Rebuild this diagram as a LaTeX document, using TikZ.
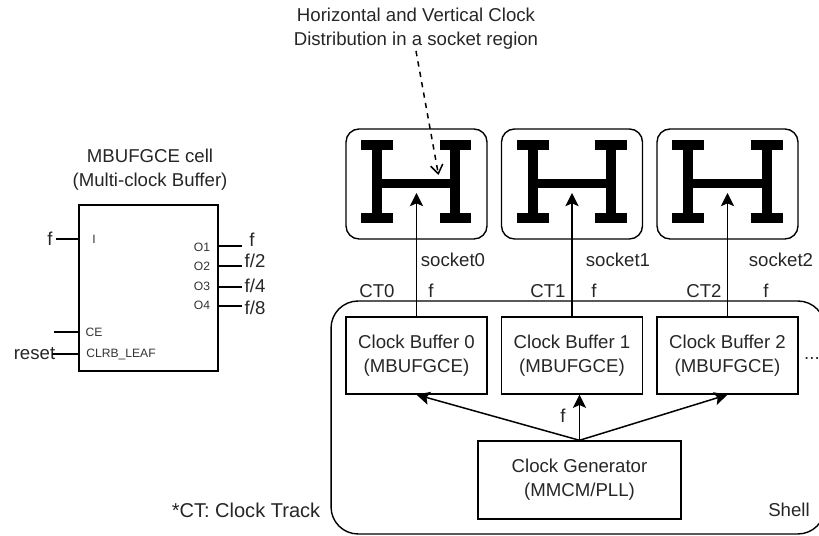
\documentclass[tikz,border=0pt]{standalone}
\usepackage{fontspec}
\setmainfont{Liberation Sans}
\usetikzlibrary{arrows.meta}
\tikzset{
  txt/.style={inner sep=0pt,text=black!85,align=center,font=\fontsize{10.6}{13.6}\selectfont},
  pintxt/.style={inner sep=0pt,text=black!80,font=\fontsize{6.9}{8}\selectfont},
  box/.style={draw,line width=0.8pt,inner sep=0pt},
  socketbox/.style={box,rounded corners=0.26cm,minimum width=2.82cm,minimum height=2.2cm},
  bufbox/.style={box,align=center,text=black!85,font=\fontsize{10.6}{13.6}\selectfont,minimum width=2.82cm,minimum height=1.54cm},
  hbar/.style={line width=5.6pt},
  wire/.style={line width=0.85pt},
  clk/.style={wire,-{Stealth[length=7.5pt,width=7.5pt,inset=1.6pt]}}
}
\begin{document}
\begin{tikzpicture}[x=0.02cm,y=-0.02cm]
      \useasboundingbox (0,0) rectangle (819,536);
      % shell and its buffers
      \node[box,rounded corners=0.54cm,minimum width=9.88cm,minimum height=4.66cm] (shell) at (578,417.5) {};
      \node[bufbox] (buf0) at (416.5,355.5) {Clock Buffer 0\\(MBUFGCE)};
      \node[bufbox] (buf1) at (572,355.5) {Clock Buffer 1\\(MBUFGCE)};
      \node[bufbox] (buf2) at (727.5,355.5) {Clock Buffer 2\\(MBUFGCE)};
      \node[bufbox,minimum width=4.06cm,minimum height=1.56cm] (clkgen) at (579.5,480) {Clock Generator\\(MMCM/PLL)};
      % socket regions
      \node[socketbox] (sock0) at (416.5,184) {};
      \node[socketbox] (sock1) at (572,184) {};
      \node[socketbox] (sock2) at (727.5,184) {};
      \draw[hbar] (361,145)--(393,145) (377,145)--(377,218) (361,218)--(393,218) (440,145)--(471,145) (455,145)--(455,218) (440,218)--(471,218) (377,183.5)--(455,183.5);
      \draw[hbar] (517,145)--(549,145) (533,145)--(533,218) (517,218)--(549,218) (595,145)--(627,145) (611,145)--(611,218) (595,218)--(627,218) (533,183.5)--(611,183.5);
      \draw[hbar] (672,145)--(704,145) (688,145)--(688,218) (672,218)--(704,218) (751,145)--(783,145) (767,145)--(767,218) (751,218)--(783,218) (688,183.5)--(767,183.5);
      \coordinate (tip0) at (416.5,193);
      \coordinate (tip1) at (572,193);
      \coordinate (tip2) at (727.5,193);
      \draw[clk] (buf0.north) -- (tip0);
      \draw[clk] (buf1.north) -- (tip1);
      \draw[clk] (buf2.north) -- (tip2);
      \draw[clk] (clkgen.north) -- (buf0.south);
      \draw[clk] (clkgen.north) -- (clkgen.north |- buf1.south);
      \draw[clk] (clkgen.north) -- (buf2.south);
      % caption and dashed pointer
      \node[txt] (caption) at (416,29) {Horizontal and Vertical Clock\\Distribution in a socket region};
      \coordinate (capend) at (416,51);
      \coordinate (hbar0) at (438.5,175);
      \draw[wire,dashed,-{Straight Barb[length=5pt,width=7pt]}] (capend) -- (hbar0);
      % labels on the right side
      \node[txt] (socket0) at (453,260) {socket0};
      \node[txt] (socket1) at (618,260) {socket1};
      \node[txt] (socket2) at (781,260) {socket2};
      \node[txt] (ct0) at (377,291) {CT0};
      \node[txt] (ct1) at (548,291) {CT1};
      \node[txt] (ct2) at (704,291) {CT2};
      \node[txt] (f0) at (431,291) {f};
      \node[txt] (f1) at (594,291) {f};
      \node[txt] (f2) at (766,291) {f};
      \node[txt] (fgen) at (563,416) {f};
      \node[txt] (dots) at (812,359) {...};
      \node[txt] (shelltxt) at (789,510) {Shell};
      \node[txt,font=\fontsize{11.4}{13.6}\selectfont] (note) at (246,510) {*CT: Clock Track};
      % the cell on the left
      \node[txt] (celltitle) at (150,170) {MBUFGCE cell\\(Multi-clock Buffer)};
      \node[box,minimum width=2.78cm,minimum height=3.32cm] (cell) at (148.5,288) {};
      \node[pintxt] (pinI) at (94,239) {I};
      \node[pintxt] (pinO1) at (202,247) {O1};
      \node[pintxt] (pinO2) at (202,266) {O2};
      \node[pintxt] (pinO3) at (202,286) {O3};
      \node[pintxt] (pinO4) at (202,305) {O4};
      \node[pintxt] (pinCE) at (94,332) {CE};
      \node[pintxt] (pinCLR) at (121,354) {CLRB\_LEAF};
      \node[txt] (inF) at (50,239) {f};
      \node[txt] (outF) at (252,240) {f};
      \node[txt] (outF2) at (255,261) {f/2};
      \node[txt] (outF4) at (255,286) {f/4};
      \node[txt] (outF8) at (255,308) {f/8};
      \node[txt] (reset) at (34.5,354) {reset};
      \coordinate (ceend) at (54,332);
      \coordinate (rstend) at (52,354);
      \coordinate (fend) at (56,239);
      \coordinate (o1end) at (242,246);
      \coordinate (o2end) at (242,266);
      \coordinate (o3end) at (242,287);
      \coordinate (o4end) at (242,306);
      \draw[wire] (fend) -- (fend -| cell.west);
      \draw[wire] (ceend) -- (ceend -| cell.west);
      \draw[wire] (rstend) -- (rstend -| cell.west);
      \draw[wire] (o1end -| cell.east) -- (o1end);
      \draw[wire] (o2end -| cell.east) -- (o2end);
      \draw[wire] (o3end -| cell.east) -- (o3end);
      \draw[wire] (o4end -| cell.east) -- (o4end);
\end{tikzpicture}
\end{document}
